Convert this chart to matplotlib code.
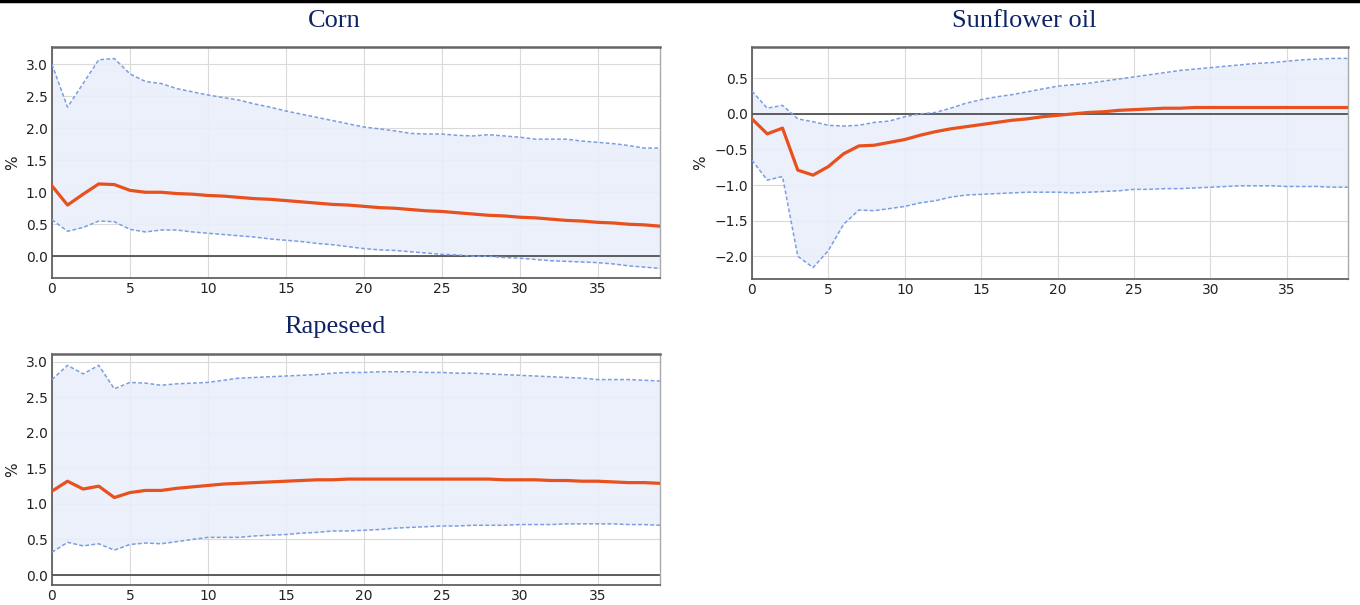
import numpy as np
import matplotlib
matplotlib.use("Agg")
import matplotlib.pyplot as plt

horizon = list(range(40))

corn_median = [1.10, 0.80, 0.97, 1.13, 1.12, 1.03, 1.00, 1.00, 0.98, 0.97,
               0.95, 0.94, 0.92, 0.90, 0.89, 0.87, 0.85, 0.83, 0.81, 0.80,
               0.78, 0.76, 0.75, 0.73, 0.71, 0.70, 0.68, 0.66, 0.64, 0.63,
               0.61, 0.60, 0.58, 0.56, 0.55, 0.53, 0.52, 0.50, 0.49, 0.47]
corn_upper = [3.00, 2.33, 2.70, 3.07, 3.09, 2.85, 2.73, 2.70, 2.62, 2.57,
              2.52, 2.48, 2.44, 2.38, 2.33, 2.27, 2.22, 2.17, 2.12, 2.07,
              2.02, 1.99, 1.96, 1.92, 1.91, 1.91, 1.89, 1.88, 1.90, 1.88,
              1.86, 1.83, 1.83, 1.83, 1.80, 1.78, 1.76, 1.73, 1.69, 1.69]
corn_lower = [0.57, 0.39, 0.45, 0.55, 0.54, 0.42, 0.38, 0.41, 0.41, 0.38,
              0.36, 0.34, 0.32, 0.30, 0.27, 0.25, 0.23, 0.20, 0.18, 0.15,
              0.12, 0.10, 0.09, 0.07, 0.05, 0.03, 0.02, 0.00, 0.00, -0.02,
              -0.03, -0.05, -0.07, -0.08, -0.09, -0.10, -0.12, -0.15, -0.17, -0.19]

sun_median = [-0.07, -0.28, -0.20, -0.79, -0.86, -0.74, -0.56, -0.45, -0.44, -0.40,
              -0.36, -0.30, -0.25, -0.21, -0.18, -0.15, -0.12, -0.09, -0.07, -0.04,
              -0.02, 0.00, 0.02, 0.03, 0.05, 0.06, 0.07, 0.08, 0.08, 0.09,
              0.09, 0.09, 0.09, 0.09, 0.09, 0.09, 0.09, 0.09, 0.09, 0.09]
sun_upper = [0.32, 0.08, 0.12, -0.07, -0.11, -0.16, -0.17, -0.16, -0.12, -0.10,
             -0.04, 0.00, 0.02, 0.08, 0.15, 0.20, 0.24, 0.27, 0.31, 0.35,
             0.39, 0.41, 0.43, 0.46, 0.49, 0.52, 0.55, 0.58, 0.61, 0.63,
             0.65, 0.67, 0.69, 0.71, 0.72, 0.74, 0.76, 0.77, 0.78, 0.78]
sun_lower = [-0.65, -0.93, -0.88, -2.00, -2.16, -1.92, -1.55, -1.35, -1.36, -1.33,
             -1.30, -1.25, -1.22, -1.17, -1.14, -1.13, -1.12, -1.11, -1.10, -1.10,
             -1.10, -1.11, -1.10, -1.09, -1.08, -1.06, -1.06, -1.05, -1.05, -1.04,
             -1.03, -1.02, -1.01, -1.01, -1.01, -1.02, -1.02, -1.02, -1.03, -1.03]

rape_median = [1.18, 1.32, 1.21, 1.25, 1.09, 1.16, 1.19, 1.19, 1.22, 1.24,
               1.26, 1.28, 1.29, 1.30, 1.31, 1.32, 1.33, 1.34, 1.34, 1.35,
               1.35, 1.35, 1.35, 1.35, 1.35, 1.35, 1.35, 1.35, 1.35, 1.34,
               1.34, 1.34, 1.33, 1.33, 1.32, 1.32, 1.31, 1.30, 1.30, 1.29]
rape_upper = [2.75, 2.95, 2.83, 2.95, 2.62, 2.71, 2.70, 2.67, 2.69, 2.70,
              2.71, 2.74, 2.77, 2.78, 2.79, 2.80, 2.81, 2.82, 2.84, 2.85,
              2.85, 2.86, 2.86, 2.86, 2.85, 2.85, 2.84, 2.84, 2.83, 2.82,
              2.81, 2.80, 2.79, 2.78, 2.77, 2.75, 2.75, 2.75, 2.74, 2.73]
rape_lower = [0.32, 0.46, 0.41, 0.44, 0.35, 0.43, 0.45, 0.44, 0.47, 0.50,
              0.53, 0.53, 0.53, 0.55, 0.56, 0.57, 0.59, 0.60, 0.62, 0.62,
              0.63, 0.64, 0.66, 0.67, 0.68, 0.69, 0.69, 0.70, 0.70, 0.70,
              0.71, 0.71, 0.71, 0.72, 0.72, 0.72, 0.72, 0.71, 0.71, 0.70]

titles = ["Corn", "Sunflower oil", "Rapeseed"]
xticks = [0, 5, 10, 15, 20, 25, 30, 35]
corn_yticks = [0.0, 0.5, 1.0, 1.5, 2.0, 2.5, 3.0]
sun_yticks = [-2.0, -1.5, -1.0, -0.5, 0.0, 0.5]
rape_yticks = [0.0, 0.5, 1.0, 1.5, 2.0, 2.5, 3.0]

fig = plt.figure(figsize=(13.6, 6.05), dpi=100)

panels = [
    ([0.0382, 0.5405, 0.4471, 0.3818], corn_median, corn_upper, corn_lower,
     corn_yticks, (-0.34, 3.27), (0.246, 0.966), titles[0]),
    ([0.5529, 0.5388, 0.4382, 0.3835], sun_median, sun_upper, sun_lower,
     sun_yticks, (-2.32, 0.94), (0.753, 0.966), titles[1]),
    ([0.0382, 0.0331, 0.4471, 0.3818], rape_median, rape_upper, rape_lower,
     rape_yticks, (-0.14, 3.11), (0.246, 0.460), titles[2]),
]

for rect, med, up, lo, yt, ylim, tpos, title in panels:
    ax = fig.add_axes(rect)
    ax.set_facecolor("white")
    ax.fill_between(horizon, lo, up, color="#e9effb", alpha=0.9, lw=0, zorder=1)
    ax.plot(horizon, up, color="#7b9ee0", lw=1.1, ls=(0, (2.5, 1.5)), zorder=3)
    ax.plot(horizon, lo, color="#7b9ee0", lw=1.1, ls=(0, (2.5, 1.5)), zorder=3)
    ax.plot(horizon, med, color="#e8501e", lw=2.3, zorder=4)
    ax.axhline(0, color="#444444", lw=1.2, zorder=2)
    ax.set_xlim(0, 39)
    ax.set_ylim(*ylim)
    ax.set_xticks(xticks)
    ax.set_yticks(yt)
    ax.set_yticklabels([f"{v:.1f}".replace("-", "\u2212") for v in yt])
    ax.grid(True, color="#dadada", lw=0.8, zorder=0)
    ax.set_axisbelow(True)
    ax.tick_params(length=0, labelsize=10, colors="#222222", pad=3)
    ax.set_ylabel("%", fontsize=11, color="#222222", labelpad=4)
    for s in ["left", "bottom"]:
        ax.spines[s].set_color("#555555")
        ax.spines[s].set_linewidth(1.2)
    ax.spines["top"].set_color("#666666")
    ax.spines["top"].set_linewidth(1.8)
    ax.spines["right"].set_color("#aaaaaa")
    ax.spines["right"].set_linewidth(1.0)
    fig.text(tpos[0], tpos[1], title, ha="center", va="center",
             fontsize=19, family="Liberation Serif", color="#0f2465")

fig.add_artist(plt.Line2D([0, 1], [0.998, 0.998], transform=fig.transFigure,
                          color="black", lw=2.5))

fig.savefig("out.png", dpi=100)
